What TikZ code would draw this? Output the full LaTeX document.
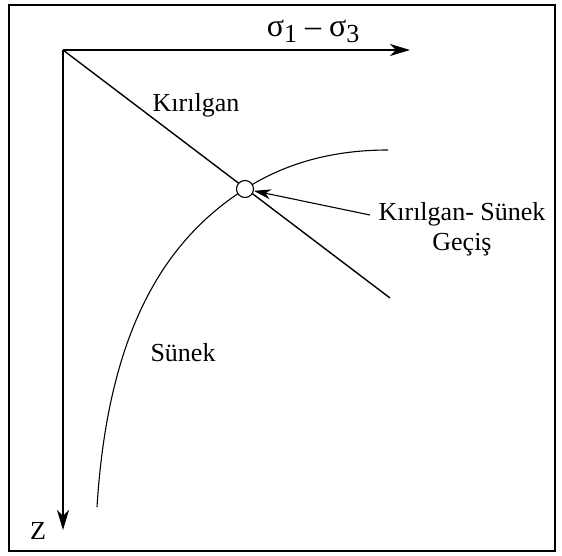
\documentclass[tikz,border=0pt]{standalone}
\usepackage{fontspec}
\setmainfont{Liberation Serif}
\usetikzlibrary{arrows.meta}
\begin{document}
\begin{tikzpicture}[x=1pt,y=-1pt,
  axis/.style={line width=1.4pt,-{Stealth[length=20pt,width=12pt,inset=6pt]}},
  lbl/.style={font=\fontsize{26}{30}\selectfont,inner sep=0pt}]
\useasboundingbox (0,0) rectangle (562,556);
\draw[line width=2pt] (9,5) rectangle (555,551);
\coordinate (o) at (63,50);
\coordinate (xe) at (410,50);
\coordinate (ze) at (63,530);
\coordinate (de) at (390,298);
\draw[axis] (o) -- (xe);
\draw[axis] (o) -- (ze);
\draw[line width=1.4pt] (o) -- (de);
\draw[line width=1.1pt] (97,507) .. controls (108,330) and (165,240) .. (245,189) .. controls (290,160) and (340,150) .. (388,150);
\node[circle,draw,line width=1.1pt,fill=white,minimum size=17pt,inner sep=0pt] (c) at (245,189) {};
\node[lbl,font=\fontsize{32}{36}\selectfont] (s) at (313,31) {σ\raisebox{-6pt}{\fontsize{26}{30}\selectfont 1} – σ\raisebox{-6pt}{\fontsize{26}{30}\selectfont 3}};
\node[lbl] (k) at (196,105) {Kırılgan};
\node[lbl] (su) at (183,353) {Sünek};
\node[lbl,align=center] (ks) at (462,229) {Kırılgan- Sünek\\Geçiş};
\node[lbl] (z) at (38,531) {Z};
\coordinate (at) at (370,215);
\draw[line width=1.1pt,-{Stealth[length=17pt,width=10pt,inset=5pt]}] (at) -- (c);
\end{tikzpicture}
\end{document}
